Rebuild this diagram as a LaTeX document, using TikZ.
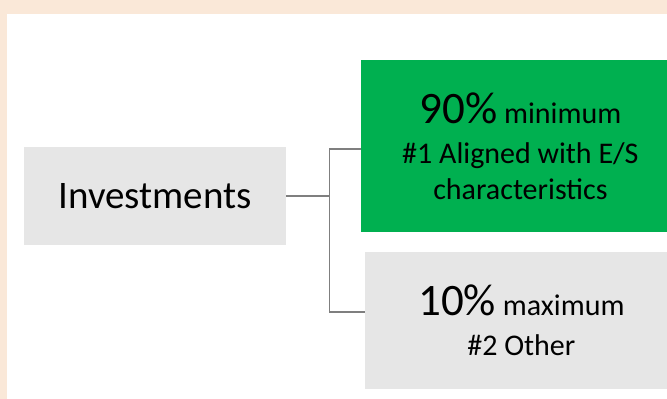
\documentclass[tikz,border=0pt]{standalone}
\usepackage{fontspec}
\setmainfont{Carlito}
\usepackage{tikz}
\usetikzlibrary{positioning}

\definecolor{pagebeige}{HTML}{FAE8D8}
\definecolor{boxgray}{HTML}{E6E6E6}
\definecolor{boxgreen}{HTML}{00B050}
\definecolor{linegray}{HTML}{7F7F7F}

\tikzset{
  graybox/.style={fill=boxgray, rectangle, inner sep=0pt, align=center},
  greenbox/.style={fill=boxgreen, rectangle, inner sep=0pt, align=center},
  branch/.style={draw=linegray, line width=1.2pt},
}

\begin{document}
\begin{tikzpicture}[x=1pt, y=1pt]
    \clip (0,0) rectangle (667,399);
    \useasboundingbox (0,0) rectangle (667,399);

    % page frame
    \fill[pagebeige] (0,385) rectangle (667,399);
    \fill[pagebeige] (0,0) rectangle (7,399);

    \node (invest) [graybox, minimum width=262pt, minimum height=98pt,
      font=\fontsize{39}{42}\selectfont] at (155,203) {Investments};
    \node (aligned) [greenbox, right=75pt of invest, yshift=50pt,
      minimum width=318pt, minimum height=172pt,
      font=\fontsize{30}{36}\selectfont]
      {{\fontsize{45}{36}\selectfont 90\%} minimum\\[4pt]
       \#1 Aligned with E/S\\ characteristics};
    \node (other) [graybox, right=79pt of invest, yshift=-124.5pt,
      minimum width=312pt, minimum height=137pt,
      font=\fontsize{30}{36}\selectfont]
      {{\fontsize{45}{36}\selectfont 10\%} maximum\\[4pt] \#2 Other};

    \coordinate [right=43pt of invest] (fork);
    \draw[branch] (invest) -- (fork);
    \draw[branch] (fork) |- ([yshift=-3pt]aligned.west);
    \draw[branch] (fork) |- ([yshift=8.5pt]other.west);
\end{tikzpicture}
\end{document}
